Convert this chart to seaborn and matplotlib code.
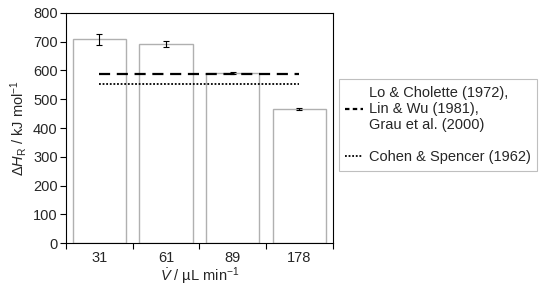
import numpy as np
import pandas as pd
import matplotlib
matplotlib.use('Agg')
import matplotlib.pyplot as plt
import seaborn as sns
from matplotlib.lines import Line2D

# flow rates (categories) and measured reaction enthalpies
flow_rates = ['31', '61', '89', '178']
dH_values = [708, 692, 591, 466]
dH_errors = [20, 10, 3, 2]

# literature values
lit_labels = ['Lo & Cholette (1972),\nLin & Wu (1981),\nGrau et al. (2000)', 'Cohen & Spencer (1962)']
lit_values = [587, 553]

sns.set_style('white')
plt.rcParams['font.family'] = ['Liberation Sans', 'DejaVu Sans']
plt.rcParams['mathtext.fontset'] = 'custom'
plt.rcParams['mathtext.rm'] = 'Liberation Sans'
plt.rcParams['mathtext.it'] = 'Liberation Sans:italic'
plt.rcParams['mathtext.bf'] = 'Liberation Sans:bold'

df = pd.DataFrame({'flow': flow_rates, 'dH': dH_values})

fig = plt.figure(figsize=(5.5, 2.94), dpi=100)
ax = fig.add_axes([0.12, 0.173, 0.485, 0.783])

sns.barplot(data=df, x='flow', y='dH', color='white', edgecolor='#b0b0b0',
            linewidth=1, width=0.8, errorbar=None, ax=ax)
ax.errorbar(np.arange(len(flow_rates)), dH_values, yerr=dH_errors, fmt='none',
            ecolor='black', elinewidth=0.8, capsize=2, capthick=0.8)

ax.plot([0, 3], [lit_values[0]] * 2, color='black', linestyle=(0, (5, 3)), linewidth=1.6)
ax.plot([0, 3], [lit_values[1]] * 2, color='black', linestyle=(0, (1, 1)), linewidth=1.3)

ax.set_xlim(-0.5, 3.5)
ax.set_ylim(0, 800)
ax.set_yticks(range(0, 801, 100))
ax.set_xticks(np.arange(-0.5, 3.6, 1), minor=False)
ax.set_xticklabels([])
ax.set_xticks(np.arange(len(flow_rates)), minor=True)
ax.set_xticklabels(flow_rates, minor=True)
ax.tick_params(axis='x', which='major', direction='out', length=4, width=0.8, color='black', bottom=True)
ax.tick_params(axis='x', which='minor', length=0, labelsize=10.5, pad=6)
ax.tick_params(axis='y', direction='out', length=4, width=0.8, color='black', left=True, labelsize=10.5, pad=2)

for s in ax.spines.values():
    s.set_color('black')
    s.set_linewidth(0.8)
    s.set_visible(True)

ax.set_xlabel(r'$\dot{V}$ / µL min$^{-1}$', fontsize=10.5, labelpad=0)
ax.set_ylabel(r'$\Delta H_\mathrm{R}$ / kJ mol$^{-1}$', fontsize=10.5, labelpad=3)

handles = [Line2D([], [], color='black', linestyle=(0, (2, 1.5)), linewidth=1.6),
           Line2D([], [], color='black', linestyle=(0, (1, 1)), linewidth=1.3)]
leg = fig.legend(handles, lit_labels, loc='upper left', bbox_to_anchor=(0.616, 0.731),
                 frameon=True, fancybox=False, edgecolor='#b0b0b0', fontsize=10.5,
                 handlelength=1.2, handletextpad=0.4, labelspacing=1.25, borderpad=0.45,
                 borderaxespad=0)
leg.get_frame().set_linewidth(0.8)

fig.savefig('out.png', dpi=100)
